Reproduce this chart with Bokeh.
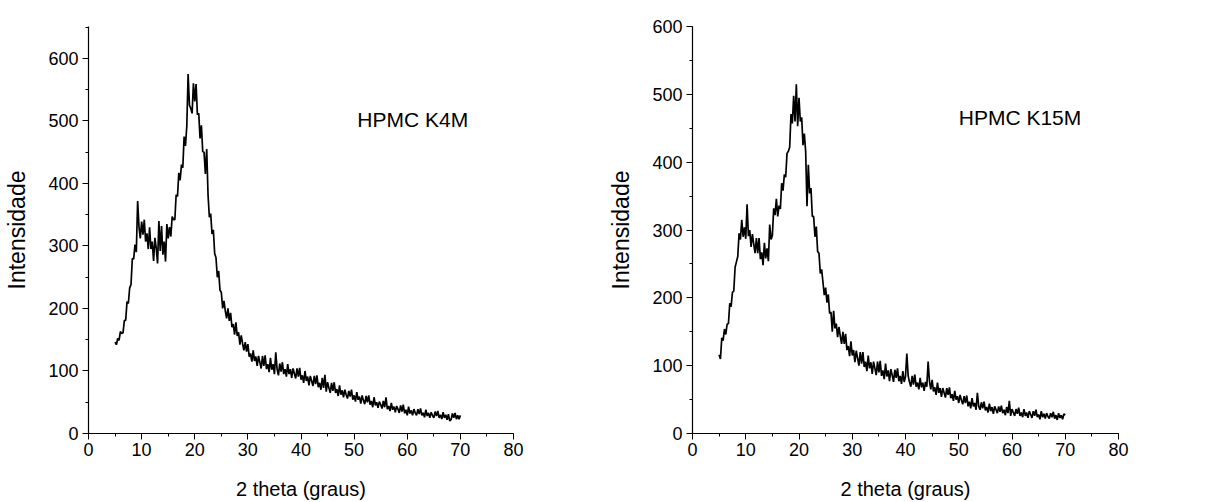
import numpy as np
from bokeh.plotting import figure
from bokeh.layouts import row
from bokeh.models import Range1d, SingleIntervalTicker, Label
from bokeh.embed import file_html
from bokeh.resources import INLINE

# 2-theta sampling: 5.00 .. 70.00 degrees, step 0.25
theta = np.linspace(5.0, 70.0, 261)

k4m = [
    146, 142, 152, 149,  163, 160, 161, 181,  181, 211, 208, 233,  238, 280, 279, 302,
    290, 372, 331, 312,  339, 318, 342, 307,  320, 295, 330, 295,  307, 276, 313, 296,
    272, 340, 292, 332,  286, 307, 275, 335,  312, 330, 315, 347,  342, 342, 382, 379,
    417, 405, 430, 425,  475, 460, 491, 575,  525, 520, 512, 560,  531, 559, 510, 512,
    472, 493, 451, 450,  415, 455, 382, 346,  352, 319, 326, 288,  281, 250, 260, 229,
    226, 200, 212, 196,  184, 200, 180, 193,  170, 175, 158, 178,  156, 162, 142, 157,
    144, 133, 146, 131,  143, 123, 128, 115,  133, 116, 123, 108,  124, 114, 104, 124,
    108, 125, 103, 111,  98, 121, 102, 111,   95, 130, 103, 93,    112, 99, 114, 95,
    103, 91, 111, 95,    103, 89, 104, 96,    88, 104, 91, 105,    86, 93, 81, 100,
    84, 91, 77, 92,      84, 76, 92, 79,      93, 74, 81, 70,      89, 73, 94, 67,
    82, 73, 65, 81,      68, 82, 65, 71,      60, 77, 62, 69,      58, 70, 62, 56,
    68, 59, 70, 54,      61, 51, 66, 54,      59, 48, 61, 53,      47, 60, 50, 61,
    46, 52, 42, 58,      45, 50, 41, 51,      46, 40, 52, 42,      58, 39, 44, 36,
    49, 38, 43, 34,      44, 39, 33, 45,      35, 46, 32, 38,      29, 43, 32, 37,
    29, 39, 33, 29,      39, 31, 40, 29,      33, 26, 38, 28,      33, 25, 34, 29,
    25, 35, 28, 36,      25, 30, 23, 34,      25, 30, 22, 31,      20, 22, 32, 25,
    33, 23, 29, 23,      29,
]

k15m = [
    116, 110, 141, 137,  154, 146, 161, 162,  192, 187, 208, 210,  245, 253, 261, 295,
    286, 315, 290, 304,  287, 338, 291, 300,  275, 294, 279, 266,  288, 266, 288, 257,
    267, 248, 281, 258,  273, 254, 308, 286,  292, 332, 322, 346,  320, 336, 331, 369,
    358, 382, 378, 413,  416, 422, 471, 457,  498, 460, 515, 453,  495, 460, 466, 425,
    442, 416, 335, 396,  354, 362, 320, 320,  290, 305, 268, 266,  236, 242, 223, 204,
    215, 193, 205, 177,  179, 150, 181, 155,  162, 142, 157, 144,  132, 150, 132, 147,
    123, 129, 114, 136,  115, 123, 105, 122,  111, 100, 120, 103,  120, 98, 106, 92,
    115, 96, 105, 88,    106, 96, 86, 106,    90, 107, 85, 93,     80, 103, 84, 93,
    77, 95, 86, 76,      94, 82, 96, 77,      85, 73, 92, 76,      84, 118, 85, 76,
    69, 85, 72, 87,      69, 75, 65, 82,      68, 75, 63, 76,      69, 106, 77, 65,
    79, 62, 68, 57,      75, 60, 67, 54,      67, 60, 53, 67,      57, 68, 52, 58,
    48, 63, 50, 55,      45, 57, 49, 43,      55, 45, 56, 40,      47, 37, 52, 40,
    45, 35, 60, 40,      35, 46, 37, 47,      34, 39, 31, 44,      33, 39, 29, 40,
    35, 30, 40, 32,      41, 30, 35, 27,      39, 30, 48, 26,      36, 31, 26, 36,
    29, 38, 26, 31,      24, 36, 26, 31,      23, 33, 28, 23,      33, 26, 35, 24,
    28, 21, 33, 24,      29, 22, 30, 25,      22, 30, 24, 32,      22, 27, 20, 30,
    23, 27, 21, 29,      27,
]

FONT = "Liberation Sans"


def panel(width, bl, br, bt, bb, ymax, y, name, lx, ly):
    p = figure(width=width, height=502, x_range=Range1d(0, 80), y_range=Range1d(0, ymax),
               output_backend="svg", toolbar_location=None,
               min_border_left=bl, min_border_right=br, min_border_top=bt, min_border_bottom=bb)
    p.outline_line_color = None
    p.xgrid.visible = False
    p.ygrid.visible = False
    p.background_fill_color = "white"
    p.border_fill_color = "white"
    p.line(theta, y, line_color="black", line_width=1.7)
    p.xaxis.ticker = SingleIntervalTicker(interval=10, num_minor_ticks=2)
    p.yaxis.ticker = SingleIntervalTicker(interval=100, num_minor_ticks=2)
    for ax in (p.xaxis[0], p.yaxis[0]):
        ax.axis_line_color = "black"
        ax.axis_line_width = 1.2
        ax.major_tick_in = 0
        ax.major_tick_out = 6
        ax.minor_tick_in = 0
        ax.minor_tick_out = 3
        ax.major_tick_line_color = "black"
        ax.minor_tick_line_color = "black"
        ax.major_label_text_font = FONT
        ax.major_label_text_font_size = "18px"
        ax.major_label_text_color = "black"
        ax.axis_label_text_font = FONT
        ax.axis_label_text_font_style = "normal"
        ax.axis_label_text_color = "black"
    p.xaxis.axis_label = "2 theta (graus)"
    p.yaxis.axis_label = "Intensidade"
    p.xaxis.axis_label_text_font_size = "20px"
    p.yaxis.axis_label_text_font_size = "23px"
    p.xaxis.major_label_standoff = 3
    p.yaxis.major_label_standoff = 4
    p.xaxis.axis_label_standoff = 19
    p.yaxis.axis_label_standoff = 15
    p.add_layout(Label(x=lx, y=ly, text=name, text_font=FONT, text_font_size="21px",
                       text_baseline="middle", text_color="black"))
    return p


p1 = panel(605, 88, 92, 24, 69, 651, k4m, "HPMC K4M", 50.6, 503)
p2 = panel(610, 83, 97, 26, 68, 600, k15m, "HPMC K15M", 50.0, 466)

layout = row(p1, p2)
open("out.html", "w").write(file_html(layout, INLINE))
